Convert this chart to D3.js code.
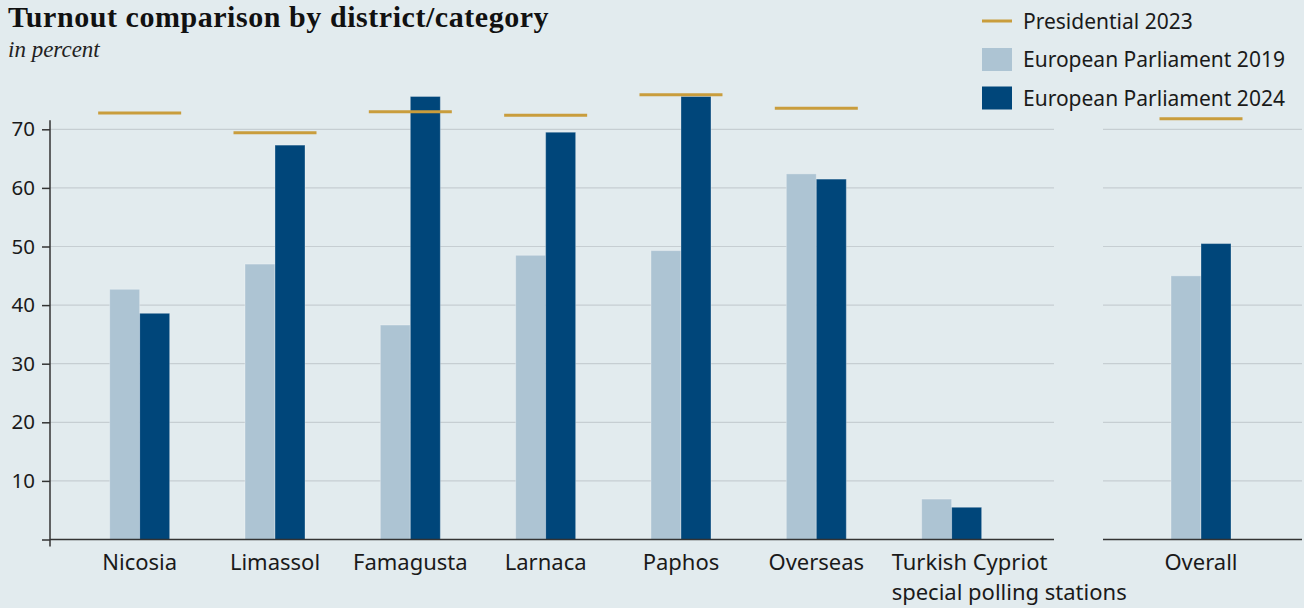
<!DOCTYPE html>
<html>
<head>
<meta charset="utf-8">
<script src="https://cdn.jsdelivr.net/npm/d3@7"></script>
<style>
  html, body { margin: 0; padding: 0; background: #e2ebee; }
  svg { display: block; }
  .sans { font-family: "Noto Sans", "Open Sans", sans-serif; fill: #1a1a1a; }
</style>
</head>
<body>
<svg id="chart" width="1304" height="608"></svg>
<script>
"use strict";
// Turnout per district, in percent
const categories = ["Nicosia", "Limassol", "Famagusta", "Larnaca", "Paphos", "Overseas",
  "Turkish Cypriot special polling stations"];
const labelLines = [["Nicosia"], ["Limassol"], ["Famagusta"], ["Larnaca"], ["Paphos"], ["Overseas"],
  ["Turkish Cypriot", "special polling stations"]];
const ep2019 = [42.7, 47.0, 36.6, 48.5, 49.3, 62.4, 6.9];
const ep2024 = [38.6, 67.3, 75.6, 69.5, 75.6, 61.5, 5.5];
const pres2023 = [72.8, 69.4, 73.0, 72.4, 75.9, 73.6, null];

// Overall panel
const overallCategories = ["Overall"];
const overall2019 = [45.0];
const overall2024 = [50.5];
const overallPres2023 = [71.8];

const yTicks = [0, 10, 20, 30, 40, 50, 60, 70];
const legendItems = ["Presidential 2023", "European Parliament 2019", "European Parliament 2024"];

const COLORS = { ep2019: "#adc4d3", ep2024: "#00467a", pres: "#c99d3c", grid: "#c6ced2", axis: "#333" };
const BAR_W = 30;
const PRES_W = 83;

const svg = d3.select("#chart");

// Shared vertical scale
const y = d3.scaleLinear().domain([0, 70]).range([539.5, 129.3]);

// Left panel and right (overall) panel horizontal scales
const xLeft = d3.scaleBand().domain(categories).range([72, 1019.3]);
const xRight = d3.scaleBand().domain(overallCategories).range([1100, 1302]);
const sub = d3.scaleBand().domain(["ep2019", "ep2024"]).range([-BAR_W, BAR_W]);

// Title block
svg.append("text")
  .attr("x", 8).attr("y", 27)
  .attr("font-family", "'Liberation Serif', serif")
  .attr("font-weight", "bold")
  .attr("font-size", "30px")
  .attr("letter-spacing", "0.55px")
  .attr("fill", "#111")
  .text("Turnout comparison by district/category");
svg.append("text")
  .attr("x", 8).attr("y", 57)
  .attr("font-family", "'Liberation Serif', serif")
  .attr("font-style", "italic")
  .attr("font-size", "23px")
  .attr("fill", "#222")
  .text("in percent");

/**
 * Draw one panel: gridlines, bars, presidential markers, baseline, labels.
 */
function drawPanel(x, x0, x1, cats, v2019, v2024, vPres, lines) {
  const g = svg.append("g");
  const center = c => x(c) + x.bandwidth() / 2;

  // Gridlines
  g.selectAll(".grid")
    .data(yTicks.filter(t => t > 0))
    .join("line")
    .attr("x1", x0).attr("x2", x1)
    .attr("y1", d => y(d)).attr("y2", d => y(d))
    .attr("stroke", COLORS.grid)
    .attr("stroke-width", 1.2);

  const rows = cats.map((c, i) => ({ c, ep2019: v2019[i], ep2024: v2024[i], pres: vPres[i] }));

  // Bars
  ["ep2019", "ep2024"].forEach(key => {
    g.selectAll(".bar-" + key)
      .data(rows)
      .join("rect")
      .attr("x", d => center(d.c) + sub(key))
      .attr("y", d => y(d[key]))
      .attr("width", sub.bandwidth())
      .attr("height", d => y(0) - y(d[key]))
      .attr("fill", COLORS[key])
      .attr("stroke", "rgba(255,255,255,0.3)")
      .attr("stroke-width", 1);
  });

  // Presidential 2023 markers
  g.selectAll(".pres")
    .data(rows.filter(d => d.pres != null))
    .join("line")
    .attr("x1", d => center(d.c) - PRES_W / 2)
    .attr("x2", d => center(d.c) + PRES_W / 2)
    .attr("y1", d => y(d.pres)).attr("y2", d => y(d.pres))
    .attr("stroke", COLORS.pres)
    .attr("stroke-width", 3);

  // Baseline
  g.append("line")
    .attr("x1", x0).attr("x2", x1)
    .attr("y1", y(0)).attr("y2", y(0))
    .attr("stroke", COLORS.axis)
    .attr("stroke-width", 1.5);

  // Category labels
  rows.forEach((d, i) => {
    const ls = lines[i];
    const multi = ls.length > 1;
    const t = g.append("text")
      .attr("class", "sans")
      .attr("font-size", "22px")
      .attr("text-anchor", multi ? "start" : "middle")
      .attr("x", multi ? center(d.c) - 60 : center(d.c))
      .attr("y", 570);
    ls.forEach((l, j) => {
      t.append("tspan")
        .attr("x", multi ? center(d.c) - 60 : center(d.c))
        .attr("dy", j === 0 ? 0 : 30)
        .text(l);
    });
  });
}

drawPanel(xLeft, 50, 1054, categories, ep2019, ep2024, pres2023, labelLines);
drawPanel(xRight, 1103, 1302, overallCategories, overall2019, overall2024, overallPres2023, [["Overall"]]);

// Y axis
const yAxis = d3.axisLeft(y)
  .tickValues(yTicks)
  .tickSize(8)
  .tickPadding(7)
  .tickFormat(d => d === 0 ? "" : d);
const ax = svg.append("g")
  .attr("transform", "translate(50,0)")
  .call(yAxis);
ax.select(".domain").remove();
ax.selectAll(".tick line").attr("stroke", COLORS.axis).attr("stroke-width", 1.5);
ax.selectAll(".tick text")
  .attr("class", "sans")
  .attr("font-size", "20.5px")
  .attr("fill", "#1a1a1a");
ax.append("line")
  .attr("x1", 0).attr("x2", 0)
  .attr("y1", y(70) - 9).attr("y2", y(0) + 7)
  .attr("stroke", COLORS.axis)
  .attr("stroke-width", 1.5);

// Legend
const legend = svg.append("g").attr("transform", "translate(982,0)");
const legendY = d3.scalePoint().domain(legendItems).range([21, 98]);
legendItems.forEach((name, i) => {
  const cy = legendY(name);
  if (i === 0) {
    legend.append("line")
      .attr("x1", 0).attr("x2", 30)
      .attr("y1", cy).attr("y2", cy)
      .attr("stroke", COLORS.pres)
      .attr("stroke-width", 3);
  } else {
    legend.append("rect")
      .attr("x", 0).attr("y", cy - 11.5)
      .attr("width", 30).attr("height", 23)
      .attr("fill", i === 1 ? COLORS.ep2019 : COLORS.ep2024);
  }
  legend.append("text")
    .attr("class", "sans")
    .attr("font-size", "21px")
    .attr("x", 41)
    .attr("y", cy + 7.5)
    .text(name);
});
</script>
</body>
</html>
